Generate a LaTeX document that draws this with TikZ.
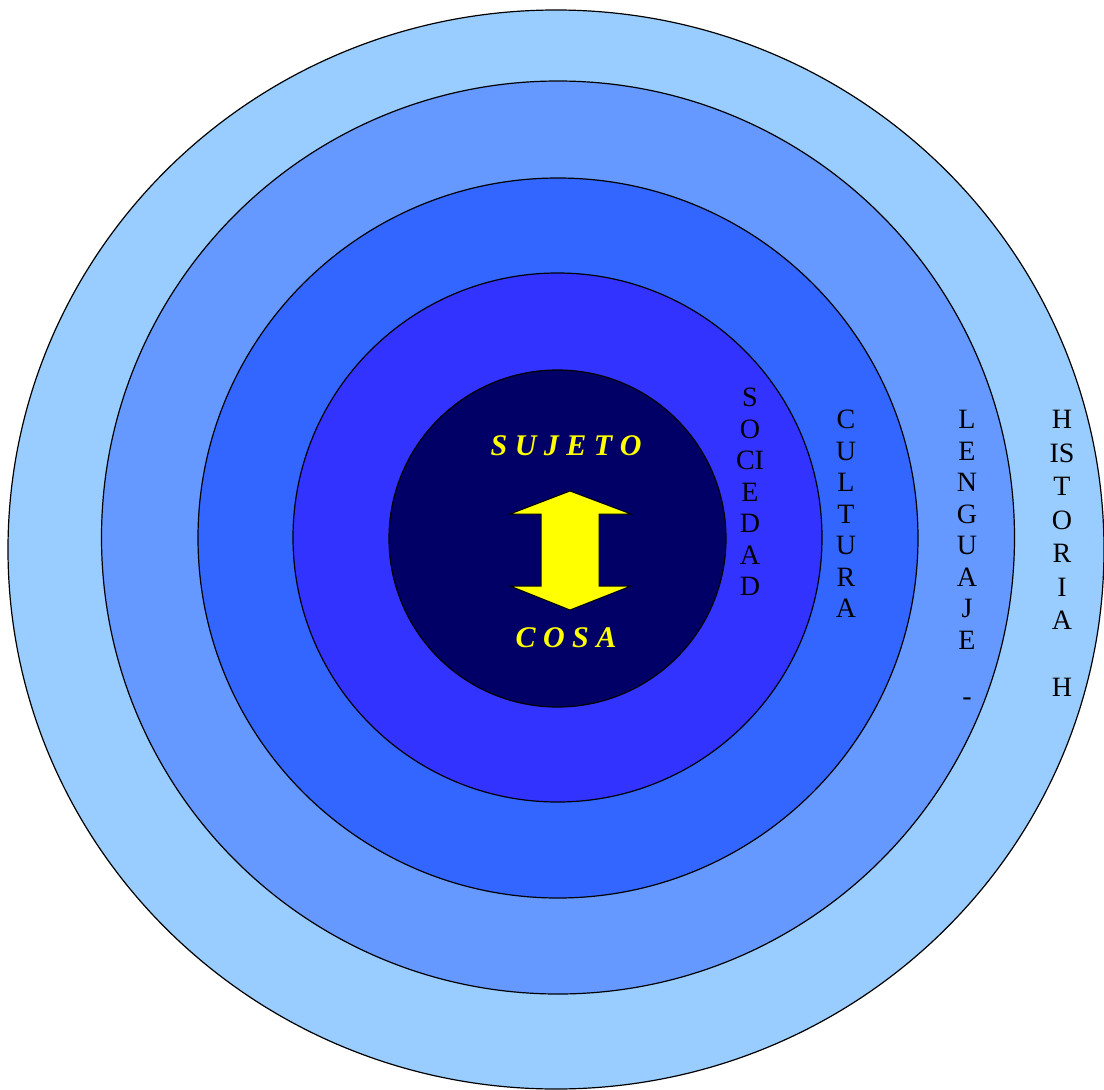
\documentclass[tikz,border=0pt]{standalone}
\usepackage{fontspec}
\setmainfont{Liberation Serif}
\usetikzlibrary{positioning}
\definecolor{historiablue}{RGB}{153,204,255}
\definecolor{lenguajeblue}{RGB}{102,153,255}
\definecolor{culturablue}{RGB}{51,102,255}
\definecolor{sociedadblue}{RGB}{51,51,255}
\definecolor{corenavy}{RGB}{0,0,102}
\definecolor{arrowyellow}{RGB}{255,255,0}

\begin{document}
\begin{tikzpicture}[
    x=1pt, y=-1pt,
    ring/.style={draw=black, line width=1.2pt},
    column/.style={align=center, inner sep=0pt, anchor=north, font=\fontsize{28}{31.5}\selectfont},
    core/.style={inner sep=0pt, text=arrowyellow, font=\fontsize{30}{32}\selectfont\bfseries\itshape}
]
    \useasboundingbox (0,0) rectangle (1104,1090);

    % Rings
    \draw[ring, fill=historiablue] (556,549.5) ellipse [x radius=548, y radius=539.5];
    \draw[ring, fill=lenguajeblue] (558,537.5) circle [radius=456.5];
    \draw[ring, fill=culturablue] (558,538) circle [radius=360];
    \draw[ring, fill=sociedadblue] (557.5,537.5) circle [radius=264.5];
    \draw[ring, fill=corenavy] (557.5,538.5) circle [radius=168.5];

    % Labels of the rings
    \node[column] (sociedad) at (750,388) {S\\O\\CI\\E\\D\\A\\D};
    \node[column] (cultura) at (846,410) {C\\U\\L\\T\\U\\R\\A};
    \node[column] (lenguaje) at (967,410) {L\\E\\N\\G\\U\\A\\J\\E\\[25pt]-};
    \node[column, font=\fontsize{28}{33.5}\selectfont] (historia) at (1062,410) {H\\IS\\T\\O\\R\\I\\A\\[33.5pt]H};

    % Core
    \node[core] (sujeto) at (566,446) {S U J E T O};
    \node[core] (cosa) at (566,638) {C O S A};

    % Double arrow
    \draw[fill=arrowyellow, line width=1pt, line join=miter]
        (570,491) -- (631,514) -- (599,514) -- (599,586) -- (631,586) -- (570,610)
        -- (510,586) -- (541,586) -- (541,514) -- (510,514) -- cycle;
\end{tikzpicture}
\end{document}
